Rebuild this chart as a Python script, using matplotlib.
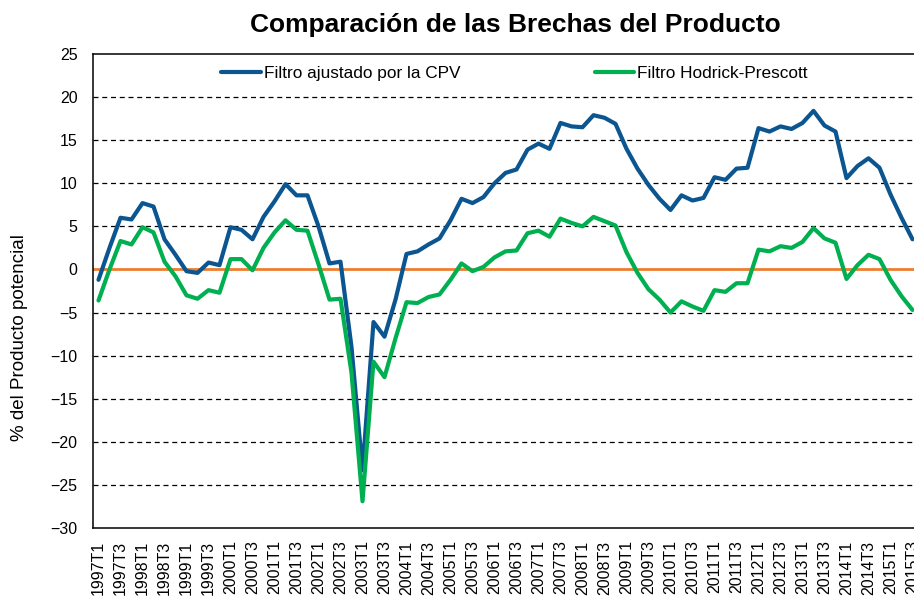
import matplotlib
matplotlib.use("Agg")
import matplotlib.pyplot as plt

plt.rcParams['font.family'] = ['Liberation Sans', 'DejaVu Sans']

# quarters 1997T1 .. 2015T3
quarters = [f"{y}T{q}" for y in range(1997, 2016) for q in range(1, 5)][:75]

# brecha con el filtro ajustado por la CPV
cpv = [-1.2, 2.5, 6.0, 5.8, 7.7, 7.3, 3.5, 1.7, -0.2, -0.4,
       0.8, 0.5, 4.9, 4.6, 3.5, 6.1, 7.9, 9.9, 8.6, 8.6,
       5.0, 0.7, 0.9, -9.0, -23.3, -6.1, -7.8, -3.5, 1.8, 2.1,
       2.9, 3.6, 5.7, 8.2, 7.7, 8.4, 10.0, 11.2, 11.6, 13.9,
       14.6, 14.0, 17.0, 16.6, 16.5, 17.9, 17.6, 16.9, 14.0, 11.7,
       9.8, 8.2, 6.9, 8.6, 8.0, 8.3, 10.7, 10.4, 11.7, 11.8,
       16.4, 16.0, 16.6, 16.3, 17.0, 18.4, 16.7, 16.0, 10.6, 12.0,
       12.9, 11.8, 8.7, 6.0, 3.5]

# brecha con el filtro Hodrick-Prescott
hp = [-3.6, 0.0, 3.3, 2.9, 4.9, 4.3, 0.9, -0.8, -3.0, -3.4,
      -2.4, -2.7, 1.2, 1.2, -0.1, 2.5, 4.3, 5.7, 4.6, 4.5,
      0.6, -3.5, -3.4, -12.0, -26.9, -10.7, -12.5, -8.0, -3.8, -3.9,
      -3.2, -2.9, -1.2, 0.7, -0.2, 0.3, 1.4, 2.1, 2.2, 4.2,
      4.5, 3.8, 5.9, 5.4, 5.0, 6.1, 5.6, 5.1, 2.0, -0.4,
      -2.3, -3.5, -5.0, -3.7, -4.3, -4.8, -2.4, -2.6, -1.6, -1.6,
      2.3, 2.1, 2.7, 2.5, 3.2, 4.8, 3.6, 3.1, -1.1, 0.5,
      1.7, 1.2, -1.2, -3.1, -4.7]

yticks = list(range(-30, 30, 5))

fig = plt.figure(figsize=(9.14, 5.98), dpi=100)
ax = fig.add_axes([93/914, 1 - 528/598, 825/914, 474/598])

x = list(range(len(quarters)))
for t in yticks[1:-1]:
    if t != 0:
        ax.axhline(t, color='black', lw=0.9, ls=(0, (4, 3)), zorder=1)
ax.axhline(0, color='#ED7D31', lw=2, zorder=2)

ax.plot(x, cpv, color='#0B5590', lw=3, solid_joinstyle='round',
        solid_capstyle='round', label='Filtro ajustado por la CPV', zorder=3)
ax.plot(x, hp, color='#00B050', lw=3, solid_joinstyle='round',
        solid_capstyle='round', label='Filtro Hodrick-Prescott', zorder=3)

ax.set_xlim(-0.5, len(quarters) - 0.5)
ax.set_ylim(-30, 25)
ax.set_yticks(yticks)
ax.set_xticks(x[::2])
ax.set_xticklabels(quarters[::2], rotation=90, fontsize=11.5)
ax.tick_params(axis='y', length=0, pad=11, labelsize=11.5)
ax.tick_params(axis='x', length=0, pad=9)
for s in ax.spines.values():
    s.set_linewidth(1.1)

fig.text(515/914, 1 - 32/598, 'Comparación de las Brechas del Producto',
         fontsize=19, fontweight='bold', ha='center', va='baseline')
fig.text(20/914, 1 - 338/598, '% del Producto potencial', rotation=90,
         ha='center', va='center', fontsize=13.5)

ax.legend(loc='center', bbox_to_anchor=(0.511, 0.958), ncol=2, frameon=False,
          fontsize=12.4, handlelength=2.3, handletextpad=0.17, columnspacing=7.8)

fig.savefig('out.png', dpi=100)
